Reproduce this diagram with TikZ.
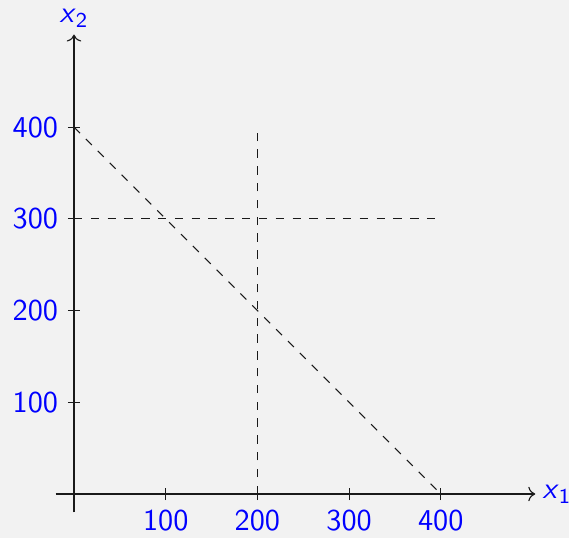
\documentclass[tikz,border=0pt]{standalone}
\usepackage{amsmath}
\usepackage{xcolor}
\usepackage{tikz}
\usetikzlibrary{arrows.meta}
\definecolor{lpBack}{HTML}{F2F2F2}
\definecolor{lpText}{HTML}{0000FF}
\definecolor{lpInk}{HTML}{1A1A1A}
\tikzset{
  lp diagram/.style={font=\sffamily\fontsize{10.8}{13}\selectfont, text=lpText, x=0.0115cm, y=0.0115cm},
  lp axis/.style={->, draw=lpInk, line width=0.4pt},
  lp tick/.style={draw=lpInk, line width=0.4pt},
  lp bound/.style={draw=lpInk, line width=0.4pt, dashed},
  lp xlabel/.style={anchor=north, inner sep=3.3pt},
  lp ylabel/.style={anchor=east, inner sep=3.3pt}
}

\begin{document}
\begin{tikzpicture}[lp diagram]
\fill[lpBack] (-80.7,-48) rectangle (539.8,538.7);
\useasboundingbox (-80.7,-48) rectangle (539.8,538.7);
% axes
\coordinate (xs) at (-20,0);
\coordinate (xe) at (503,0);
\coordinate (ys) at (0,-20);
\coordinate (ye) at (0,501);
\draw[lp axis] (xs) -- (xe);
\draw[lp axis] (ys) -- (ye);
\node[anchor=west, inner sep=2.4pt] (xname) at (xe) {\textit{x}\textsubscript{1}};
\node[anchor=south, inner sep=2.4pt] (yname) at (ye) {\textit{x}\textsubscript{2}};
% ticks on x1
\draw[lp tick] (100,0) ++(0,-2.2pt) -- ++(0,4.4pt);
\draw[lp tick] (200,0) ++(0,-2.2pt) -- ++(0,4.4pt);
\draw[lp tick] (300,0) ++(0,-2.2pt) -- ++(0,4.4pt);
\draw[lp tick] (400,0) ++(0,-2.2pt) -- ++(0,4.4pt);
\node[lp xlabel] (tx1) at ([yshift=-2.2pt]100,0) {100};
\node[lp xlabel] (tx2) at ([yshift=-2.2pt]200,0) {200};
\node[lp xlabel] (tx3) at ([yshift=-2.2pt]300,0) {300};
\node[lp xlabel] (tx4) at ([yshift=-2.2pt]400,0) {400};
% ticks on x2
\draw[lp tick] (0,100) ++(-2.2pt,0) -- ++(4.4pt,0);
\draw[lp tick] (0,200) ++(-2.2pt,0) -- ++(4.4pt,0);
\draw[lp tick] (0,300) ++(-2.2pt,0) -- ++(4.4pt,0);
\draw[lp tick] (0,400) ++(-2.2pt,0) -- ++(4.4pt,0);
\node[lp ylabel] (ty1) at ([xshift=-2.2pt]0,100) {100};
\node[lp ylabel] (ty2) at ([xshift=-2.2pt]0,200) {200};
\node[lp ylabel] (ty3) at ([xshift=-2.2pt]0,300) {300};
\node[lp ylabel] (ty4) at ([xshift=-2.2pt]0,400) {400};
% constraint lines
\coordinate (a1) at (0,400);
\coordinate (a2) at (400,0);
\coordinate (b1) at (0,300);
\coordinate (b2) at (400,300);
\coordinate (c1) at (200,0);
\coordinate (c2) at (200,400);
\draw[lp bound] (a1) -- (a2);
\draw[lp bound] (b1) -- (b2);
\draw[lp bound] (c1) -- (c2);
\end{tikzpicture}
\end{document}
